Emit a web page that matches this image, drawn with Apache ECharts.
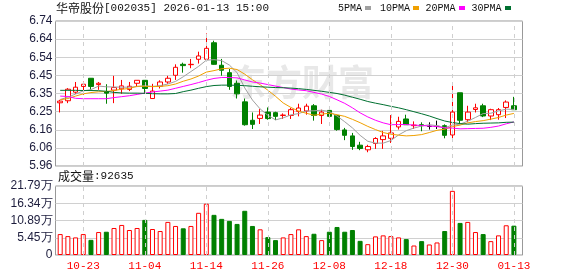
<!DOCTYPE html>
<html><head><meta charset="utf-8">
<script src="https://cdn.jsdelivr.net/npm/echarts@6/dist/echarts.min.js"></script>
<style>html,body{margin:0;padding:0;background:#fff}#c{width:578px;height:276px}</style>
</head><body><div id="c"></div>
<script>
const dates = ['10-20','10-21','10-22','10-23','10-24','10-27','10-28','10-29','10-30','10-31',
'11-03','11-04','11-05','11-06','11-07','11-10','11-11','11-12','11-13','11-14','11-17','11-18','11-19','11-20','11-21','11-24','11-25','11-26','11-27','11-28',
'12-01','12-02','12-03','12-04','12-05','12-08','12-09','12-10','12-11','12-12','12-15','12-16','12-17','12-18','12-19','12-22','12-23','12-24','12-25','12-26','12-29','12-30','12-31',
'01-05','01-06','01-07','01-08','01-09','01-12','01-13'];
const opens = [6.300,6.311,6.357,6.388,6.432,6.398,6.359,6.368,6.375,6.372,6.405,6.421,6.323,6.389,6.412,6.448,6.507,6.505,6.534,6.534,
6.623,6.502,6.462,6.405,6.305,6.206,6.216,6.250,6.247,6.232,6.232,6.254,6.256,6.284,6.232,6.259,6.232,6.154,6.122,6.072,
6.047,6.081,6.102,6.109,6.170,6.213,6.177,6.182,6.173,6.173,6.177,6.127,6.354,6.209,6.264,6.284,6.229,6.236,6.275,6.284];
const closes = [6.309,6.373,6.384,6.400,6.388,6.405,6.352,6.382,6.391,6.389,6.421,6.377,6.363,6.412,6.432,6.491,6.500,6.507,6.552,6.593,
6.507,6.475,6.388,6.348,6.182,6.184,6.234,6.215,6.227,6.234,6.263,6.272,6.282,6.232,6.250,6.227,6.156,6.125,6.065,6.054,
6.065,6.108,6.122,6.138,6.200,6.182,6.180,6.177,6.173,6.173,6.125,6.250,6.206,6.250,6.273,6.229,6.263,6.263,6.304,6.263];
const lows = [6.248,6.298,6.348,6.343,6.368,6.370,6.295,6.298,6.348,6.363,6.388,6.348,6.323,6.377,6.402,6.423,6.462,6.486,6.511,6.534,
6.505,6.446,6.370,6.323,6.177,6.159,6.186,6.209,6.207,6.213,6.213,6.227,6.236,6.204,6.186,6.220,6.150,6.099,6.047,6.045,
6.034,6.052,6.052,6.084,6.156,6.182,6.159,6.147,6.156,6.159,6.109,6.109,6.191,6.195,6.248,6.223,6.207,6.209,6.218,6.263];
const highs = [6.316,6.379,6.412,6.414,6.432,6.412,6.400,6.445,6.423,6.412,6.421,6.421,6.402,6.421,6.445,6.507,6.516,6.536,6.575,6.673,
6.634,6.536,6.482,6.420,6.323,6.248,6.266,6.275,6.252,6.243,6.272,6.295,6.295,6.293,6.263,6.266,6.236,6.165,6.138,6.090,
6.074,6.115,6.149,6.234,6.225,6.236,6.200,6.195,6.195,6.204,6.184,6.391,6.354,6.284,6.295,6.295,6.268,6.272,6.313,6.332];
const volumes = [66100,59700,55600,66100,47900,72500,73500,85300,94900,78900,85300,110900,82100,75700,104500,91700,84300,91700,133200,162000,
126800,114100,107700,98100,139600,91700,81100,56500,47000,55600,66100,81100,59700,67100,47000,73500,88500,73500,78900,44700,
34200,58800,62000,59700,55600,50200,30000,43800,33200,39600,75700,202600,101300,104500,72500,66100,43800,62000,93900,92635];
const ma5 = [6.318,6.330,6.347,6.364,6.371,6.390,6.386,6.385,6.384,6.384,6.387,6.392,6.388,6.392,6.401,6.415,6.440,6.468,6.496,6.529,
6.532,6.527,6.503,6.462,6.380,6.315,6.267,6.233,6.208,6.219,6.235,6.242,6.256,6.257,6.260,6.253,6.229,6.198,6.165,6.125,
6.093,6.083,6.083,6.097,6.127,6.150,6.164,6.175,6.182,6.177,6.166,6.180,6.185,6.201,6.221,6.242,6.244,6.256,6.266,6.264];
const ma10 = [6.316,6.323,6.336,6.348,6.355,6.359,6.361,6.366,6.373,6.377,6.389,6.389,6.387,6.388,6.392,6.401,6.416,6.428,6.444,6.465,
6.473,6.483,6.486,6.479,6.454,6.424,6.397,6.368,6.335,6.299,6.275,6.255,6.244,6.233,6.239,6.244,6.236,6.227,6.211,6.193,
6.173,6.156,6.140,6.131,6.126,6.122,6.124,6.129,6.140,6.152,6.158,6.172,6.180,6.192,6.199,6.204,6.212,6.221,6.234,6.243];
const ma20 = [6.336,6.334,6.324,6.322,6.322,6.322,6.322,6.328,6.333,6.338,6.345,6.352,6.358,6.363,6.368,6.378,6.388,6.398,6.409,6.421,
6.431,6.436,6.436,6.434,6.423,6.412,6.406,6.398,6.390,6.382,6.374,6.369,6.365,6.356,6.347,6.334,6.316,6.297,6.273,6.246,
6.224,6.206,6.192,6.182,6.183,6.183,6.180,6.178,6.175,6.172,6.165,6.164,6.160,6.161,6.162,6.163,6.168,6.175,6.187,6.197];
const ma30 = [6.367,6.367,6.367,6.366,6.366,6.365,6.362,6.356,6.353,6.352,6.352,6.351,6.349,6.348,6.348,6.350,6.360,6.368,6.378,6.387,
6.393,6.395,6.395,6.394,6.392,6.389,6.386,6.384,6.382,6.381,6.379,6.376,6.372,6.367,6.362,6.356,6.350,6.341,6.330,6.319,
6.307,6.298,6.290,6.281,6.273,6.263,6.252,6.241,6.229,6.215,6.202,6.194,6.188,6.185,6.188,6.190,6.191,6.192,6.195,6.196];
const priceTicks = ['5.96','6.06','6.16','6.25','6.35','6.45','6.54','6.64','6.74'];
const volTicks = ['0','5.45万','10.89万','16.34万','21.79万'];
const labelDates = ['10-23','11-04','11-14','11-26','12-08','12-18','12-30','01-13'];
const stockTitle = '华帝股份';
const stockCode = '[002035] 2026-01-13 15:00';
const volTitle = '成交量';
const lastVolume = 92635;
const maNames = ['5PMA','10PMA','20PMA','30PMA'];
const maColors = ['#a0a0a0','#f0a000','#ff00ff','#007030'];

const RED = '#ff0000', GREEN = '#008000';
const chart = echarts.init(document.getElementById('c'), null, {renderer: 'canvas'});

const pTop = 21, pH = 145, vTop = 186, vH = 69;
const fL = 55.5, fW = 467;
const dL = 56.35, dW = 461.4;

const kData = dates.map((d, i) => [opens[i], closes[i], lows[i], highs[i]]);
const vData = volumes.map((v, i) => {
  const up = closes[i] >= opens[i];
  return {value: v, itemStyle: up ? {color: '#fff', borderColor: RED, borderWidth: 1} : {color: GREEN, borderColor: GREEN, borderWidth: 1}};
});
const vLines = labelDates.map(d => ({xAxis: d}));
const markStyle = {silent: true, symbol: 'none', label: {show: false}, animation: false,
  lineStyle: {type: [4, 4], color: '#cfcfcf', width: 1}, emphasis: {disabled: true}, data: vLines};

const legendG = [];
const legX = [338, 380, 425.5, 471.5];
const legMk = [365, 413, 459, 505];
maNames.forEach((n, k) => {
  legendG.push({type: 'text', left: legX[k], top: 3, style: {text: n, font: '10px "Liberation Mono"', fill: '#111'}});
  legendG.push({type: 'rect', shape: {x: legMk[k], y: 6, width: 6, height: 4}, style: {fill: maColors[k]}});
});

const option = {
  animation: false,
  backgroundColor: '#fff',
  graphic: [
    {type: 'text', left: 56, top: 2, style: {
      text: '{a|' + stockTitle + '}{b|' + stockCode + '}',
      rich: {a: {font: '12px "Noto Sans CJK SC"', fill: '#111'}, b: {font: '11px "Liberation Mono"', fill: '#111'}}}},
    {type: 'text', left: 58, top: 170, style: {
      text: '{a|' + volTitle + '}{b|:' + lastVolume + '}',
      rich: {a: {font: '12px "Noto Sans CJK SC"', fill: '#111'}, b: {font: '11px "Liberation Mono"', fill: '#111'}}}},
    {type: 'text', left: 230, top: 64, z: -10, silent: true, style: {text: '东方财富', font: 'bold 36px "Noto Sans CJK SC"', fill: '#e8e8e8'}},
    ...legendG
  ],
  grid: [
    {left: fL, top: pTop, width: fW, height: pH, show: true, borderColor: '#999', borderWidth: 1, backgroundColor: 'transparent'},
    {left: dL, top: pTop, width: dW, height: pH, show: false},
    {left: fL, top: vTop, width: fW, height: vH, show: true, borderColor: '#999', borderWidth: 1, backgroundColor: 'transparent'},
    {left: dL, top: vTop, width: dW, height: vH, show: false}
  ],
  xAxis: [
    {gridIndex: 0, type: 'value', min: 0, max: 1, show: false},
    {gridIndex: 1, type: 'category', data: dates, boundaryGap: true, show: false},
    {gridIndex: 2, type: 'value', min: 0, max: 1, show: false},
    {gridIndex: 3, type: 'category', data: dates, boundaryGap: true,
      axisLine: {show: false}, axisTick: {show: false}, splitLine: {show: false},
      axisLabel: {color: RED, fontFamily: 'Liberation Mono', fontSize: 11, margin: 6,
        interval: (i) => labelDates.includes(dates[i]), hideOverlap: false}}
  ],
  yAxis: [
    {gridIndex: 0, type: 'value', min: 0, max: 8, interval: 1, axisLine: {show: false}, axisTick: {show: false},
      axisLabel: {formatter: (v) => priceTicks[Math.round(v)], color: '#1c1c3c', fontFamily: 'Liberation Sans', fontSize: 12, margin: 3},
      splitLine: {lineStyle: {color: '#d0d0d0', width: 1}}},
    {gridIndex: 1, type: 'value', min: 5.96, max: 6.74, show: false, splitLine: {show: false}},
    {gridIndex: 2, type: 'value', min: 0, max: 4, interval: 1, axisLine: {show: false}, axisTick: {show: false},
      axisLabel: {formatter: (v) => volTicks[Math.round(v)], color: '#1c1c3c', fontFamily: 'Liberation Sans', fontSize: 12, margin: 3},
      splitLine: {lineStyle: {color: '#d0d0d0', width: 1}}},
    {gridIndex: 3, type: 'value', min: 0, max: 217900, show: false, splitLine: {show: false}}
  ],
  series: [
    {type: 'line', xAxisIndex: 1, yAxisIndex: 1, data: [], z: 1, markLine: markStyle},
    {type: 'line', xAxisIndex: 3, yAxisIndex: 3, data: [], z: 1, markLine: markStyle},
    {type: 'candlestick', xAxisIndex: 1, yAxisIndex: 1, data: kData, barWidth: 5, z: 3,
      itemStyle: {color: '#fff', color0: GREEN, borderColor: RED, borderColor0: GREEN, borderColorDoji: '#000', borderWidth: 1}},
    ...[ma5, ma10, ma20, ma30].map((arr, k) => ({
      type: 'line', name: maNames[k], xAxisIndex: 1, yAxisIndex: 1, data: arr, symbol: 'none', z: 4,
      lineStyle: {color: maColors[k], width: 1}, emphasis: {disabled: true}})),
    {type: 'bar', xAxisIndex: 3, yAxisIndex: 3, data: vData, barWidth: 5, z: 3}
  ]
};
chart.setOption(option);
</script></body></html>
